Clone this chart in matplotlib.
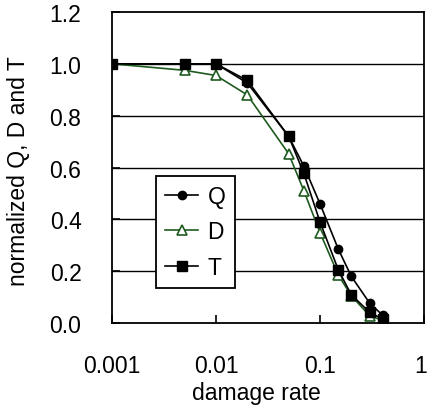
import matplotlib
matplotlib.use("Agg")
import matplotlib.pyplot as plt
import matplotlib.transforms as mtransforms
from matplotlib.ticker import FixedLocator, NullLocator

plt.rcParams['font.family'] = ['Liberation Sans', 'DejaVu Sans']

damage = [0.001, 0.005, 0.01, 0.02, 0.05, 0.07, 0.1, 0.15, 0.2, 0.3, 0.4]
Q = [1.0, 1.0, 1.0, 0.926, 0.72, 0.605, 0.46, 0.285, 0.18, 0.077, 0.03]
D = [1.0, 0.975, 0.955, 0.88, 0.653, 0.51, 0.349, 0.185, 0.105, 0.028, 0.01]
T = [1.0, 1.0, 1.0, 0.936, 0.72, 0.577, 0.39, 0.205, 0.109, 0.041, 0.015]

xticks = [0.001, 0.01, 0.1, 1]
xticklabels = ['0.001', '0.01', '0.1', '1']
yticks = [0.0, 0.2, 0.4, 0.6, 0.8, 1.0, 1.2]
yticklabels = ['0.0', '0.2', '0.4', '0.6', '0.8', '1.0', '1.2']

green = '#1f5a1f'
FS = 16.5

fig = plt.figure(figsize=(4.28, 4.10), dpi=100)
ax = fig.add_axes([112/428, (410-324)/410, 312/428, 311/410])

ax.set_xscale('log')
ax.set_xlim(0.001, 1)
ax.set_ylim(0, 1.2)

for y in yticks[1:-1]:
    ax.axhline(y, color='black', lw=1.0, zorder=1)

ax.plot(damage, Q, color='black', lw=1.2, marker='o', ms=6, mfc='black', mec='black', label='Q', zorder=3)
ax.plot(damage, D, color=green, lw=1.2, marker='^', ms=6.5, mfc='white', mec=green, mew=1.2, label='D', zorder=4)
ax.plot(damage, T, color='black', lw=1.2, marker='s', ms=7, mfc='black', mec='black', label='T', zorder=5)

ax.xaxis.set_major_locator(FixedLocator(xticks))
ax.xaxis.set_minor_locator(NullLocator())
ax.set_xticklabels(xticklabels)
ax.set_yticks(yticks)
ax.set_yticklabels(yticklabels)
ax.tick_params(axis='both', direction='in', length=6, width=1.2, labelsize=FS, pad=22)

# nudge the last x tick label so it stays inside the figure
lbl = ax.get_xticklabels()[-1]
lbl.set_transform(lbl.get_transform() + mtransforms.ScaledTranslation(-3/100, 0, fig.dpi_scale_trans))

for s in ax.spines.values():
    s.set_linewidth(1.3)
    s.set_color('black')

ax.set_xlabel('damage rate', fontsize=FS, labelpad=3)
ax.set_ylabel('normalized Q, D and T', fontsize=FS, labelpad=14)
ax.xaxis.label.set_x(0.462)
ax.yaxis.label.set_y(0.49)

leg = ax.legend(loc='lower left', bbox_to_anchor=(0.141, 0.112),
                fontsize=FS, frameon=True, fancybox=False, edgecolor='black',
                framealpha=1, handlelength=1.45, handletextpad=0.4, borderpad=0.4,
                labelspacing=0.55, borderaxespad=0)
leg.get_frame().set_linewidth(1.3)

fig.savefig('out.png', dpi=100)
